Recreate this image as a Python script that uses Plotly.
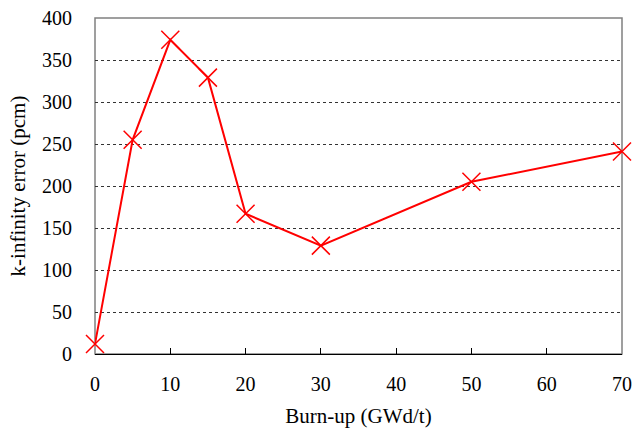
import plotly.graph_objects as go

burnup = [0, 5, 10, 15, 20, 30, 50, 70]
kinf_error = [12, 255, 374, 329, 167, 129, 205, 241]

font_name = "Times New Roman, Liberation Serif, serif"

fig = go.Figure()
fig.add_trace(go.Scatter(
    x=burnup,
    y=kinf_error,
    mode='lines+markers',
    line=dict(color='#ff0000', width=2),
    marker=dict(symbol='x-thin-open', size=18, line=dict(color='#ff0000', width=1.5)),
    cliponaxis=False,
    showlegend=False,
))

fig.update_layout(
    width=636, height=432,
    margin=dict(l=95, r=14, t=18, b=78),
    paper_bgcolor='white',
    plot_bgcolor='white',
    font=dict(family=font_name, size=17.5, color='black'),
)
fig.update_xaxes(
    range=[0, 70], tickvals=[0, 10, 20, 30, 40, 50, 60, 70],
    showgrid=False, zeroline=False, automargin=False,
    showline=True, linecolor='black', linewidth=1.2,
    ticks='inside', ticklen=6, tickcolor='black', tickwidth=1,
    tickfont=dict(size=20),
    ticklabelstandoff=12,
    title=dict(text='Burn-up (GWd/t)', standoff=14),
)
fig.update_yaxes(
    range=[0, 400], dtick=50,
    showgrid=True, gridcolor='#333333', griddash='dot', gridwidth=1,
    zeroline=False, showline=False, automargin=False,
    ticks='', ticklabelstandoff=22,
    tickfont=dict(size=20),
    title=dict(text='k-infinity error (pcm)', standoff=10),
)
# gray frame around the plot area
fig.add_shape(type='rect', xref='paper', yref='paper', x0=0, y0=0, x1=1, y1=1,
              line=dict(color='#808080', width=1.5), layer='below')

# drop the default 8px body margin so the figure fills the window
fig.write_html("out.html", config={'displayModeBar': False},
               post_script="document.body.style.margin='0px'; document.body.style.overflow='hidden';")
